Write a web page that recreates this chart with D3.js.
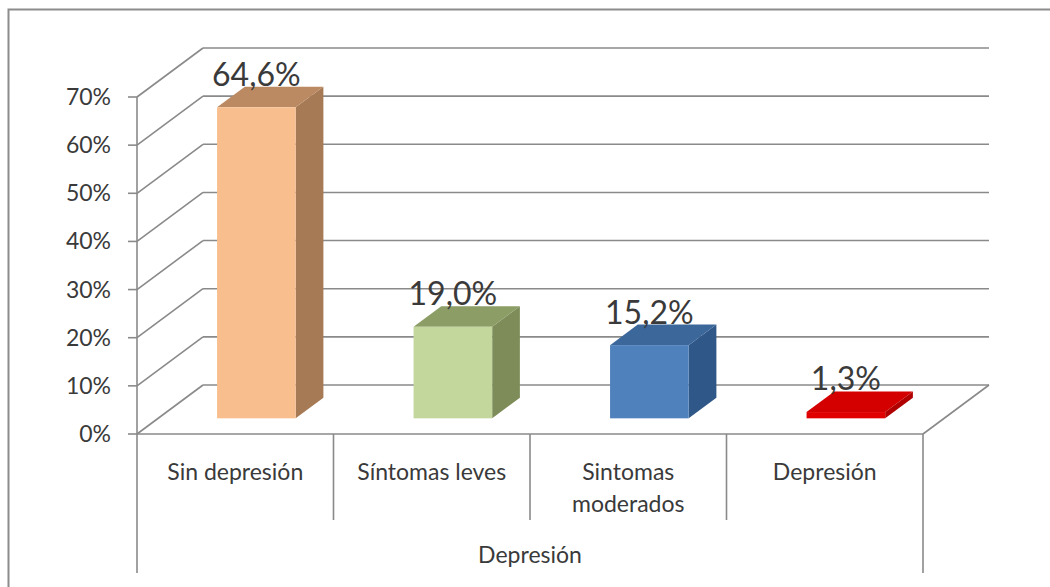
<!DOCTYPE html>
<html>
<head>
<meta charset="utf-8">
<script src="https://cdn.jsdelivr.net/npm/d3@7"></script>
<style>
  body { margin: 0; background: #fff; }
  svg { display: block; }
  text { font-family: Lato, "Open Sans", sans-serif; fill: #3a3a3a; }
</style>
</head>
<body>
<svg id="chart" width="1050" height="587"></svg>
<script>
// Data
const categories = ["Sin depresión", "Síntomas leves", "Sintomas moderados", "Depresión"];
const categoryLines = [["Sin depresión"], ["Síntomas leves"], ["Sintomas", "moderados"], ["Depresión"]];
const values = [64.6, 19.0, 15.2, 1.3];
const valueLabels = ["64,6%", "19,0%", "15,2%", "1,3%"];
const tickValues = [0, 10, 20, 30, 40, 50, 60, 70];
const tickLabels = ["0%", "10%", "20%", "30%", "40%", "50%", "60%", "70%"];
const axisTitle = "Depresión";

// Face colours per bar
const frontColors = ["#F9BE8E", "#C3D69B", "#4F81BD", "#E00000"];
const topColors   = ["#BC8A62", "#8C9D66", "#3B679B", "#D40000"];
const sideColors  = ["#A67A55", "#7D8C58", "#2F5888", "#B00000"];

const svg = d3.select("#chart");

// Outer chart-area frame
svg.append("rect")
  .attr("x", 8.5).attr("y", 9.5).attr("width", 1100).attr("height", 700)
  .attr("fill", "#fff").attr("stroke", "#8c8c8c").attr("stroke-width", 2);

// Front-plane scales
const x = d3.scaleBand().domain(categories).range([137, 923]).padding(0);
const y = d3.scaleLinear().domain([0, 70]).range([434, 97]);

// 3D depth offset of the plot box
const depth = { dx: 66, dy: -49 };
const barFront = 0.32, barBack = 0.74;   // bar position along the depth
const barWidthRatio = 0.4;

const gridColor = "#8a8a8a";
const g = svg.append("g");

// Side wall and back wall gridlines
tickValues.forEach(t => {
  const y0 = y(t);
  g.append("line")
    .attr("x1", x.range()[0]).attr("y1", y0)
    .attr("x2", x.range()[0] + depth.dx).attr("y2", y0 + depth.dy)
    .attr("stroke", gridColor).attr("stroke-width", 1.6);
  g.append("line")
    .attr("x1", x.range()[0] + depth.dx).attr("y1", y0 + depth.dy)
    .attr("x2", x.range()[1] + depth.dx).attr("y2", y0 + depth.dy)
    .attr("stroke", gridColor).attr("stroke-width", 1.6);
});

// Floor front edge and right edge
g.append("line")
  .attr("x1", x.range()[0]).attr("y1", y(0))
  .attr("x2", x.range()[1]).attr("y2", y(0))
  .attr("stroke", gridColor).attr("stroke-width", 1.6);
g.append("line")
  .attr("x1", x.range()[1]).attr("y1", y(0))
  .attr("x2", x.range()[1] + depth.dx).attr("y2", y(0) + depth.dy)
  .attr("stroke", gridColor).attr("stroke-width", 1.6);

// Vertical axis and ticks
g.append("line")
  .attr("x1", x.range()[0]).attr("y1", y(70))
  .attr("x2", x.range()[0]).attr("y2", 573)
  .attr("stroke", gridColor).attr("stroke-width", 1.6);
tickValues.forEach((t, i) => {
  g.append("line")
    .attr("x1", x.range()[0] - 9).attr("y1", y(t))
    .attr("x2", x.range()[0]).attr("y2", y(t))
    .attr("stroke", gridColor).attr("stroke-width", 1.6);
  g.append("text")
    .attr("x", 111).attr("y", y(t) + 8)
    .attr("text-anchor", "end")
    .attr("font-size", 23)
    .text(tickLabels[i]);
});

// Category dividers below the floor
categories.forEach((c, i) => {
  if (i === 0) return;
  g.append("line")
    .attr("x1", x(c)).attr("y1", y(0))
    .attr("x2", x(c)).attr("y2", 520)
    .attr("stroke", gridColor).attr("stroke-width", 1.6);
});
g.append("line")
  .attr("x1", x.range()[1]).attr("y1", y(0))
  .attr("x2", x.range()[1]).attr("y2", 573)
  .attr("stroke", gridColor).attr("stroke-width", 1.6);

// Category labels
categories.forEach((c, i) => {
  const t = g.append("text")
    .attr("x", x(c) + x.bandwidth() / 2)
    .attr("y", 480)
    .attr("text-anchor", "middle")
    .attr("font-size", 23);
  categoryLines[i].forEach((line, k) => {
    t.append("tspan").attr("x", x(c) + x.bandwidth() / 2).attr("dy", k === 0 ? 0 : 32).text(line);
  });
});

// Axis title
g.append("text")
  .attr("x", (x.range()[0] + x.range()[1]) / 2)
  .attr("y", 563)
  .attr("text-anchor", "middle")
  .attr("font-size", 23)
  .text(axisTitle);

// Bars as 3D boxes
const pts = a => a.map(p => p.join(",")).join(" ");
const bars = g.append("g");
categories.forEach((c, i) => {
  const w = x.bandwidth() * barWidthRatio;
  const xl = x(c) + (x.bandwidth() - w) / 2 + barFront * depth.dx;
  const xr = xl + w;
  const yt = y(values[i]) + barFront * depth.dy;
  const yb = y(0) + barFront * depth.dy;
  const ddx = (barBack - barFront) * depth.dx;
  const ddy = (barBack - barFront) * depth.dy;

  bars.append("polygon")
    .attr("points", pts([[xr, yt], [xr + ddx, yt + ddy], [xr + ddx, yb + ddy], [xr, yb]]))
    .attr("fill", sideColors[i]);
  bars.append("polygon")
    .attr("points", pts([[xl, yt], [xl + ddx, yt + ddy], [xr + ddx, yt + ddy], [xr, yt]]))
    .attr("fill", topColors[i]);
  bars.append("rect")
    .attr("x", xl).attr("y", yt)
    .attr("width", w).attr("height", Math.max(yb - yt, 0))
    .attr("fill", frontColors[i]);

  bars.append("text")
    .attr("x", (xl + xr) / 2)
    .attr("y", yt + ddy - 1)
    .attr("text-anchor", "middle")
    .attr("font-size", 32)
    .attr("fill", "#1e1e1e")
    .text(valueLabels[i]);
});
</script>
</body>
</html>
